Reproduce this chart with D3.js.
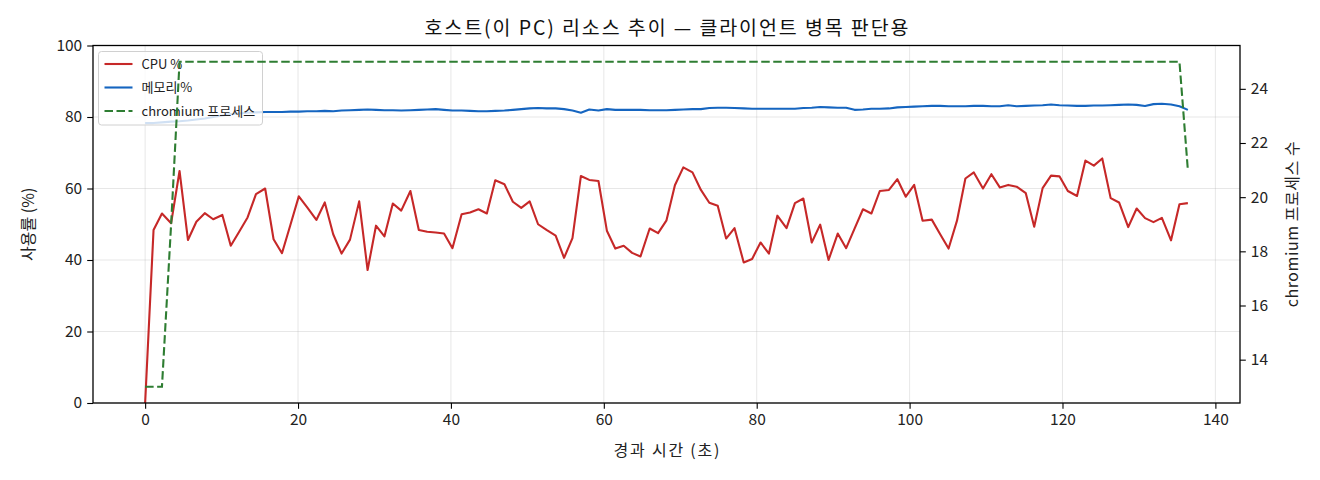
<!DOCTYPE html>
<html>
<head>
<meta charset="utf-8">
<script src="https://cdn.jsdelivr.net/npm/d3@7"></script>
<style>
  html, body { margin: 0; padding: 0; background: #fff; }
  svg { display: block; font-family: "Noto Sans CJK KR", "Noto Sans", sans-serif; }
</style>
</head>
<body>
<svg id="chart"></svg>
<script>
// elapsed seconds of each sample
const elapsed = [
  0.0, 1.1, 2.2, 3.4, 4.5, 5.6, 6.7, 7.8, 8.9, 10.1,
  11.2, 12.3, 13.4, 14.5, 15.7, 16.8, 17.9, 19.0, 20.1, 21.2,
  22.4, 23.5, 24.6, 25.7, 26.8, 28.0, 29.1, 30.2, 31.3, 32.4,
  33.5, 34.7, 35.8, 36.9, 38.0, 39.1, 40.2, 41.4, 42.5, 43.6,
  44.7, 45.8, 47.0, 48.1, 49.2, 50.3, 51.4, 52.5, 53.7, 54.8,
  55.9, 57.0, 58.1, 59.3, 60.4, 61.5, 62.6, 63.7, 64.8, 66.0,
  67.1, 68.2, 69.3, 70.4, 71.6, 72.7, 73.8, 74.9, 76.0, 77.1,
  78.3, 79.4, 80.5, 81.6, 82.7, 83.9, 85.0, 86.1, 87.2, 88.3,
  89.4, 90.6, 91.7, 92.8, 93.9, 95.0, 96.1, 97.3, 98.4, 99.5,
  100.6, 101.7, 102.9, 104.0, 105.1, 106.2, 107.3, 108.4, 109.6, 110.7,
  111.8, 112.9, 114.0, 115.2, 116.3, 117.4, 118.5, 119.6, 120.7, 121.9,
  123.0, 124.1, 125.2, 126.3, 127.4, 128.6, 129.7, 130.8, 131.9, 133.0,
  134.2, 135.3, 136.4
];

const cpuPct = [
  0, 48.4, 53.0, 50.3, 64.9, 45.6, 50.7, 53.1, 51.4, 52.6,
  44.0, 47.9, 51.9, 58.4, 60.0, 45.8, 41.9, 49.8, 57.8, 54.7,
  51.2, 56.1, 47.2, 41.8, 45.7, 56.4, 37.2, 49.6, 46.6, 55.8,
  53.8, 59.3, 48.4, 47.9, 47.7, 47.4, 43.3, 52.8, 53.3, 54.2,
  53.0, 62.3, 61.2, 56.3, 54.6, 56.4, 50.0, 48.4, 46.8, 40.6,
  46.1, 63.5, 62.4, 62.1, 48.2, 43.2, 44.0, 42.0, 41.0, 48.8,
  47.5, 51.1, 60.9, 65.9, 64.5, 59.6, 56.0, 55.2, 46.0, 48.9,
  39.3, 40.3, 44.9, 41.8, 52.4, 48.9, 55.9, 57.2, 44.9, 49.9,
  40.0, 47.4, 43.3, 48.8, 54.2, 53.0, 59.3, 59.6, 62.6, 57.7,
  61.0, 51.0, 51.3, 47.2, 43.2, 51.0, 62.8, 64.5, 60.0, 64.0,
  60.3, 61.0, 60.5, 58.7, 49.3, 60.1, 63.6, 63.4, 59.3, 57.9,
  67.8, 66.4, 68.4, 57.3, 56.1, 49.2, 54.4, 51.7, 50.6, 51.8,
  45.5, 55.6, 55.9
];

const memPct = [
  78.3, 78.3, 78.5, 78.7, 78.8, 79.0, 79.3, 79.6, 80.0, 80.4,
  80.8, 81.0, 81.2, 81.3, 81.4, 81.4, 81.4, 81.5, 81.5, 81.6,
  81.6, 81.7, 81.6, 81.8, 81.9, 82.0, 82.1, 82.0, 81.9, 81.9,
  81.8, 81.9, 82.0, 82.1, 82.2, 82.0, 81.8, 81.8, 81.7, 81.6,
  81.6, 81.7, 81.8, 82.0, 82.2, 82.4, 82.5, 82.4, 82.4, 82.2,
  81.8, 81.2, 82.1, 81.8, 82.2, 82.0, 82.0, 82.0, 82.0, 81.9,
  81.9, 81.9, 82.0, 82.1, 82.2, 82.2, 82.5, 82.6, 82.6, 82.5,
  82.4, 82.3, 82.3, 82.3, 82.3, 82.3, 82.3, 82.5, 82.6, 82.8,
  82.7, 82.6, 82.6, 82.0, 82.1, 82.3, 82.3, 82.4, 82.7, 82.8,
  82.9, 83.0, 83.1, 83.1, 83.0, 83.0, 83.0, 83.1, 83.1, 83.0,
  83.0, 83.3, 83.0, 83.1, 83.2, 83.3, 83.5, 83.3, 83.2, 83.1,
  83.1, 83.2, 83.2, 83.3, 83.4, 83.5, 83.4, 83.1, 83.6, 83.7,
  83.5, 83.0, 82.0
];

const chromiumCount = [
  13, 13, 13, 19, 25, 25, 25, 25, 25, 25,
  25, 25, 25, 25, 25, 25, 25, 25, 25, 25,
  25, 25, 25, 25, 25, 25, 25, 25, 25, 25,
  25, 25, 25, 25, 25, 25, 25, 25, 25, 25,
  25, 25, 25, 25, 25, 25, 25, 25, 25, 25,
  25, 25, 25, 25, 25, 25, 25, 25, 25, 25,
  25, 25, 25, 25, 25, 25, 25, 25, 25, 25,
  25, 25, 25, 25, 25, 25, 25, 25, 25, 25,
  25, 25, 25, 25, 25, 25, 25, 25, 25, 25,
  25, 25, 25, 25, 25, 25, 25, 25, 25, 25,
  25, 25, 25, 25, 25, 25, 25, 25, 25, 25,
  25, 25, 25, 25, 25, 25, 25, 25, 25, 25,
  25, 25, 21
];

const xTicks = [0, 20, 40, 60, 80, 100, 120, 140];
const leftTicks = [0, 20, 40, 60, 80, 100];
const rightTicks = [14, 16, 18, 20, 22, 24];

const seriesNames = ['CPU %', '메모리 %', 'chromium 프로세스'];
const titleText = '호스트(이 PC) 리소스 추이 — 클라이언트 병목 판단용';
const xLabel = '경과 시간 (초)';
const leftLabel = '사용률 (%)';
const rightLabel = 'chromium 프로세스 수';

const W = 1320, H = 480;
const plot = { left: 93, right: 1240, top: 45.5, bottom: 403 };
const colors = { cpu: '#c62828', mem: '#1565c0', chrome: '#2e7d32' };

const svg = d3.select('#chart').attr('width', W).attr('height', H)
  .attr('viewBox', `0 0 ${W} ${H}`);

// matplotlib-like 5% margins on x and the right axis
const xPad = (d3.max(elapsed) - d3.min(elapsed)) * 0.05;
const x = d3.scaleLinear()
  .domain([d3.min(elapsed) - xPad, d3.max(elapsed) + xPad])
  .range([plot.left, plot.right]);
const yLeft = d3.scaleLinear().domain([0, 100]).range([plot.bottom, plot.top]);
const rPad = (d3.max(chromiumCount) - d3.min(chromiumCount)) * 0.05;
const yRight = d3.scaleLinear()
  .domain([d3.min(chromiumCount) - rPad, d3.max(chromiumCount) + rPad])
  .range([plot.bottom, plot.top]);

// grid
const grid = svg.append('g').attr('stroke', '#b0b0b0').attr('stroke-opacity', 0.3).attr('stroke-width', 1);
grid.selectAll('line.gx').data(xTicks).enter().append('line')
  .attr('x1', d => x(d)).attr('x2', d => x(d))
  .attr('y1', plot.top).attr('y2', plot.bottom);
grid.selectAll('line.gy').data(leftTicks).enter().append('line')
  .attr('x1', plot.left).attr('x2', plot.right)
  .attr('y1', d => yLeft(d)).attr('y2', d => yLeft(d));

// left axis lines
const lineLeft = d3.line()
  .x((d, i) => x(elapsed[i]))
  .y(d => yLeft(d));

svg.append('path').datum(cpuPct)
  .attr('d', lineLeft)
  .attr('fill', 'none').attr('stroke', colors.cpu).attr('stroke-width', 2.1)
  .attr('stroke-linejoin', 'round');

svg.append('path').datum(memPct)
  .attr('d', lineLeft)
  .attr('fill', 'none').attr('stroke', colors.mem).attr('stroke-width', 2.1)
  .attr('stroke-linejoin', 'round');

// legend (belongs to the left axes, so the twin line goes over it)
const legend = svg.append('g').attr('transform', 'translate(98.5,51.5)');
legend.append('rect')
  .attr('width', 164).attr('height', 73.5).attr('rx', 3)
  .attr('fill', '#fff').attr('fill-opacity', 0.8)
  .attr('stroke', '#d0d0d0').attr('stroke-width', 1);
const legendItems = [
  { name: seriesNames[0], color: colors.cpu, dash: null },
  { name: seriesNames[1], color: colors.mem, dash: null },
  { name: seriesNames[2], color: colors.chrome, dash: '8.5,3.5' }
];
const row = legend.selectAll('g.item').data(legendItems).enter().append('g')
  .attr('transform', (d, i) => `translate(0,${12.5 + i * 23.5})`);
row.append('line')
  .attr('x1', 6).attr('x2', 34).attr('y1', 0).attr('y2', 0)
  .attr('stroke', d => d.color).attr('stroke-width', 2.1)
  .attr('stroke-dasharray', d => d.dash);
row.append('text')
  .attr('x', 43).attr('y', 4.5)
  .attr('font-size', 13).attr('fill', '#222')
  .text(d => d.name);

// right axis line
svg.append('path').datum(chromiumCount)
  .attr('d', d3.line().x((d, i) => x(elapsed[i])).y(d => yRight(d)))
  .attr('fill', 'none').attr('stroke', colors.chrome).attr('stroke-width', 2.1)
  .attr('stroke-dasharray', '8.5,3.5');

// axes
const tickFont = 15.5;
const xAxis = svg.append('g').attr('transform', `translate(0,${plot.bottom})`)
  .call(d3.axisBottom(x).tickValues(xTicks).tickSize(5.8).tickPadding(5));
const lAxis = svg.append('g').attr('transform', `translate(${plot.left},0)`)
  .call(d3.axisLeft(yLeft).tickValues(leftTicks).tickSize(5.8).tickPadding(5));
const rAxis = svg.append('g').attr('transform', `translate(${plot.right},0)`)
  .call(d3.axisRight(yRight).tickValues(rightTicks).tickSize(5.8).tickPadding(5));
[xAxis, lAxis, rAxis].forEach(a => {
  a.select('.domain').remove();
  a.selectAll('.tick line').attr('stroke', '#000').attr('stroke-width', 1.1);
  a.selectAll('.tick text').attr('font-size', tickFont).attr('fill', '#222')
    .attr('font-family', '"Noto Sans CJK KR", sans-serif');
});

// frame
svg.append('rect')
  .attr('x', plot.left).attr('y', plot.top)
  .attr('width', plot.right - plot.left).attr('height', plot.bottom - plot.top)
  .attr('fill', 'none').attr('stroke', '#000').attr('stroke-width', 1.3);

// texts
svg.append('text')
  .attr('x', (plot.left + plot.right) / 2).attr('y', 35)
  .attr('text-anchor', 'middle').attr('font-size', 19.5).attr('fill', '#111')
  .attr('textLength', 484).attr('lengthAdjust', 'spacing')
  .text(titleText);

svg.append('text')
  .attr('x', (plot.left + plot.right) / 2).attr('y', 456)
  .attr('text-anchor', 'middle').attr('font-size', 16).attr('fill', '#222')
  .attr('textLength', 106).attr('lengthAdjust', 'spacing')
  .text(xLabel);

svg.append('text')
  .attr('transform', `translate(34,${(plot.top + plot.bottom) / 2}) rotate(-90)`)
  .attr('text-anchor', 'middle').attr('font-size', 16).attr('fill', '#222')
  .text(leftLabel);

svg.append('text')
  .attr('transform', `translate(1298,${(plot.top + plot.bottom) / 2}) rotate(-90)`)
  .attr('text-anchor', 'middle').attr('font-size', 16).attr('fill', '#222')
  .attr('textLength', 166).attr('lengthAdjust', 'spacing')
  .text(rightLabel);
</script>
</body>
</html>
